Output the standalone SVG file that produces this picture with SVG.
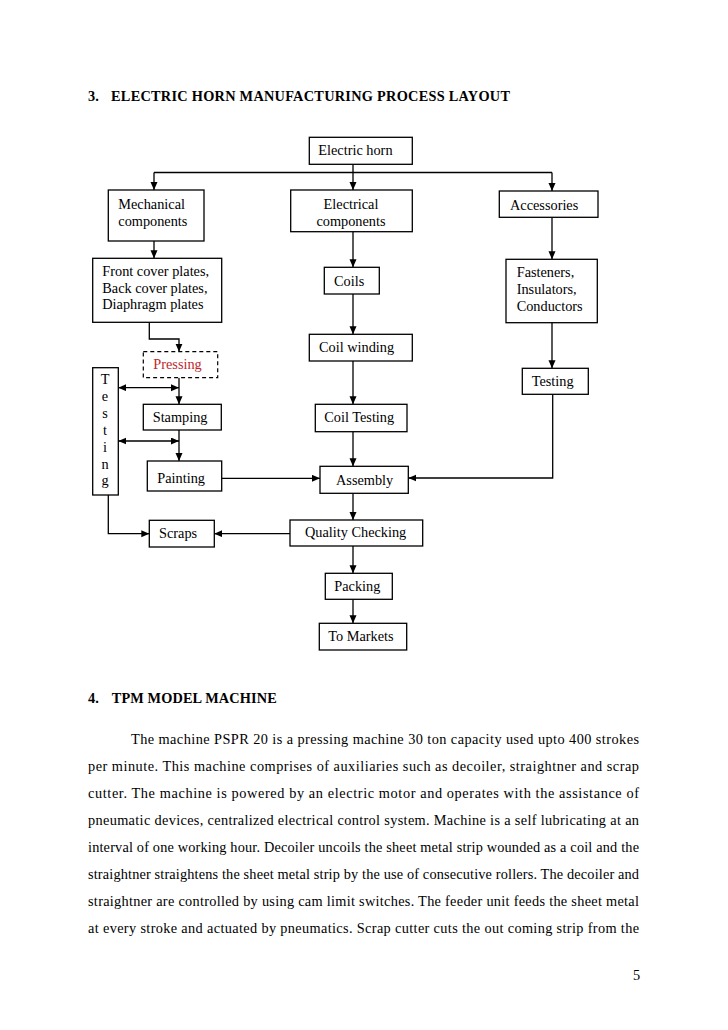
<svg xmlns="http://www.w3.org/2000/svg" width="728" height="1030" viewBox="0 0 728 1030">
<defs>
<marker id="ah" markerUnits="userSpaceOnUse" markerWidth="9" markerHeight="8" refX="8" refY="3.5" orient="auto-start-reverse">
<path d="M0,0 L8,3.5 L0,7 z" fill="#000"/>
</marker>
<style>
.b{fill:#fff;stroke:#000;stroke-width:1.3}
.d{fill:#fff;stroke:#000;stroke-width:1.2;stroke-dasharray:4 3}
.t{font-family:"Liberation Serif","Times New Roman",serif;font-size:14.3px;fill:#000}
.c{text-anchor:middle}
.h{font-family:"Liberation Serif","Times New Roman",serif;font-size:14.3px;font-weight:bold;fill:#000}
.l{fill:none;stroke:#000;stroke-width:1.3}
.a{marker-end:url(#ah)}
.aa{marker-start:url(#ah);marker-end:url(#ah)}
</style>
</defs>
<rect width="728" height="1030" fill="#fff"/>
<text class="h" x="88" y="101">3.</text>
<text class="h" x="111" y="101" textLength="399" lengthAdjust="spacing">ELECTRIC HORN MANUFACTURING PROCESS LAYOUT</text>

<g id="connectors">
<path class="l a" d="M353,164 V190"/>
<path class="l" d="M154,172.5 H552"/>
<path class="l a" d="M154,172.5 V190"/>
<path class="l a" d="M552,172.5 V191"/>
<path class="l a" d="M353,231.7 V267.3"/>
<path class="l a" d="M353,294 V334.3"/>
<path class="l a" d="M353,361 V404.3"/>
<path class="l a" d="M353,431.7 V466.3"/>
<path class="l a" d="M353,493.3 V520"/>
<path class="l a" d="M353,546 V573.3"/>
<path class="l a" d="M353,599.3 V623.3"/>
<path class="l a" d="M154,241 V258.3"/>
<path class="l a" d="M149.3,322.3 V339 H179 V351.7"/>
<path class="l a" d="M179,377.7 V404.3"/>
<path class="l a" d="M179,430 V461"/>
<path class="l aa" d="M118.3,387.7 H179"/>
<path class="l aa" d="M118.3,441 H179"/>
<path class="l a" d="M221.7,478.3 H320"/>
<path class="l a" d="M108.3,495 V533.7 H149.3"/>
<path class="l a" d="M290,533.7 H214.3"/>
<path class="l a" d="M552,217.3 V259.3"/>
<path class="l a" d="M552,322.7 V368.3"/>
<path class="l a" d="M552.7,394.3 V478 H408.3"/>
</g>

<g id="electric-horn"><rect class="b" x="309.3" y="137.3" width="103" height="27"/><text class="t" x="318.3" y="155">Electric horn</text></g>
<g id="mechanical"><rect class="b" x="108.3" y="190" width="95.7" height="51"/><text class="t" x="118.3" y="208.5">Mechanical</text><text class="t" x="118.3" y="225.7">components</text></g>
<g id="electrical"><rect class="b" x="290.7" y="190" width="121.6" height="41.7"/><text class="t c" x="351" y="208.5">Electrical</text><text class="t c" x="351" y="225.7">components</text></g>
<g id="accessories"><rect class="b" x="499.3" y="191" width="98.7" height="26.3"/><text class="t" x="510" y="210">Accessories</text></g>
<g id="fasteners"><rect class="b" x="506" y="259.3" width="91.3" height="63.4"/><text class="t" x="516.7" y="276.7">Fasteners,</text><text class="t" x="516.7" y="294.3">Insulators,</text><text class="t" x="516.7" y="311">Conductors</text></g>
<g id="front-cover"><rect class="b" x="92.7" y="258.3" width="129" height="64"/><text class="t" x="102.3" y="276">Front cover plates,</text><text class="t" x="102.3" y="292.7">Back cover plates,</text><text class="t" x="102.3" y="309.3">Diaphragm plates</text></g>
<g id="coils"><rect class="b" x="324.3" y="267.3" width="55" height="26.7"/><text class="t" x="334" y="285.5">Coils</text></g>
<g id="coil-winding"><rect class="b" x="309.3" y="334.3" width="103" height="26.7"/><text class="t" x="319" y="352">Coil winding</text></g>
<g id="pressing"><rect class="d" x="143.3" y="351.7" width="74.4" height="26"/><text class="t" x="153.3" y="368.5" style="fill:#c0282d">Pressing</text></g>
<g id="testing-left"><rect class="b" x="92.7" y="367.7" width="25.6" height="127.3"/>
<text class="t c" x="105" y="384">T</text><text class="t c" x="105" y="401">e</text><text class="t c" x="105" y="418">s</text><text class="t c" x="105" y="435">t</text><text class="t c" x="105" y="452">i</text><text class="t c" x="105" y="469">n</text><text class="t c" x="105" y="485">g</text></g>
<g id="stamping"><rect class="b" x="143.3" y="404.3" width="78" height="25.7"/><text class="t" x="152.7" y="422">Stamping</text></g>
<g id="painting"><rect class="b" x="147.3" y="461" width="74.4" height="30"/><text class="t" x="157.3" y="483">Painting</text></g>
<g id="scraps"><rect class="b" x="149.3" y="520.3" width="65" height="26.7"/><text class="t" x="159" y="538">Scraps</text></g>
<g id="coil-testing"><rect class="b" x="315.3" y="404.3" width="91.7" height="27.4"/><text class="t" x="324.3" y="422">Coil Testing</text></g>
<g id="assembly"><rect class="b" x="320" y="466.3" width="88.3" height="27"/><text class="t" x="336" y="484.5">Assembly</text></g>
<g id="testing-right"><rect class="b" x="522.3" y="368.3" width="66" height="26"/><text class="t" x="531.7" y="385.5">Testing</text></g>
<g id="quality-checking"><rect class="b" x="290" y="520" width="132.7" height="26"/><text class="t" x="305" y="537">Quality Checking</text></g>
<g id="packing"><rect class="b" x="325.3" y="573.3" width="67" height="26"/><text class="t" x="334.3" y="591">Packing</text></g>
<g id="to-markets"><rect class="b" x="319.3" y="623.3" width="87.4" height="26.7"/><text class="t" x="328.3" y="640.5">To Markets</text></g>

<text class="h" x="88" y="703">4.</text>
<text class="h" x="111.7" y="703" textLength="165" lengthAdjust="spacing">TPM MODEL MACHINE</text>
<g class="t">
<text x="131" y="744" textLength="508" lengthAdjust="spacing">The machine PSPR 20 is a pressing machine 30 ton capacity used upto 400 strokes</text>
<text x="88" y="771" textLength="551" lengthAdjust="spacing">per minute. This machine comprises of auxiliaries such as decoiler, straightner and scrap</text>
<text x="88" y="798" textLength="551" lengthAdjust="spacing">cutter. The machine is powered by an electric motor and operates with the assistance of</text>
<text x="88" y="825" textLength="551" lengthAdjust="spacing">pneumatic devices, centralized electrical control system. Machine is a self lubricating at an</text>
<text x="88" y="852" textLength="551" lengthAdjust="spacing">interval of one working hour. Decoiler uncoils the sheet metal strip wounded as a coil and the</text>
<text x="88" y="879" textLength="551" lengthAdjust="spacing">straightner straightens the sheet metal strip by the use of consecutive rollers. The decoiler and</text>
<text x="88" y="906" textLength="551" lengthAdjust="spacing">straightner are controlled by using cam limit switches. The feeder unit feeds the sheet metal</text>
<text x="88" y="933" textLength="551" lengthAdjust="spacing">at every stroke and actuated by pneumatics. Scrap cutter cuts the out coming strip from the</text>
<text x="633" y="980">5</text>
</g>
</svg>
